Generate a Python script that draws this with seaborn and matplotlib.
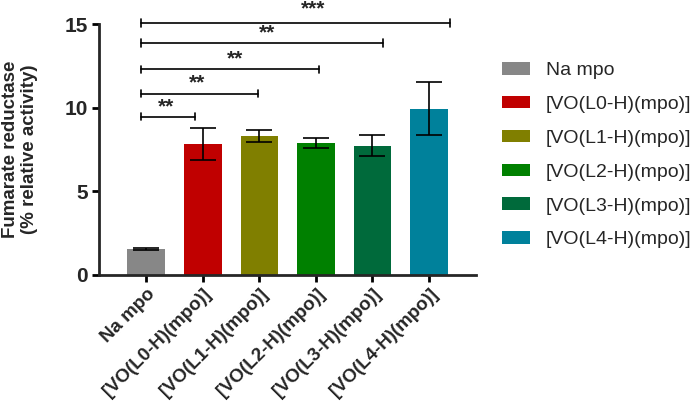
import matplotlib
matplotlib.use("Agg")
import matplotlib.pyplot as plt
import seaborn as sns
import pandas as pd
import numpy as np

categories = ["Na mpo", "[VO(L0-H)(mpo)]", "[VO(L1-H)(mpo)]", "[VO(L2-H)(mpo)]",
              "[VO(L3-H)(mpo)]", "[VO(L4-H)(mpo)]"]
values = [1.52, 7.83, 8.31, 7.87, 7.73, 9.94]
errors = [0.07, 0.95, 0.35, 0.29, 0.65, 1.60]
colors = ["#878787", "#C00000", "#807F00", "#008000", "#006A3B", "#00819B"]
y_ticks = [0, 5, 10, 15]
sig_labels = ["**", "**", "**", "**", "***"]
sig_heights = [9.46, 10.84, 12.28, 13.86, 15.05]
sig_ends = [0.86, 1.98, 3.06, 4.18, 5.37]
sig_start = -0.09
sig_text_x = [0.35, 0.90, 1.57, 2.13, 2.95]
sig_text_dy = [0.28, 0.28, 0.28, 0.28, 0.55]

sns.set_style("ticks")
plt.rcParams["font.family"] = ["Liberation Sans", "DejaVu Sans"]

df = pd.DataFrame({"cat": categories, "val": values})

fig = plt.figure(figsize=(6.99, 4.07), dpi=100)
ax = fig.add_axes([99/699, 1-274.7/407, (476-99)/699, (274.7-24)/407])

sns.barplot(data=df, x="cat", y="val", hue="cat", palette=colors, dodge=False,
            width=0.666, ax=ax, legend=True, errorbar=None, linewidth=0, saturation=1)

ax.errorbar(np.arange(len(categories)), values, yerr=errors, fmt="none",
            ecolor="black", elinewidth=1.2, capsize=9.7, capthick=1.2, zorder=5)

ax.set_xlim(-0.835, 5.83)
ax.set_ylim(0, 15)
ax.set_yticks(y_ticks)
ax.set_yticklabels([str(t) for t in y_ticks], fontsize=15, fontweight="bold")
ax.set_xticks(np.arange(len(categories)))
ax.set_xticklabels(categories, rotation=45, ha="right", rotation_mode="anchor",
                   fontsize=13.5, fontweight="bold")
ax.set_xlabel("")
ax.set_ylabel("Fumarate reductase\n(% relative activity)", fontsize=13.5,
              fontweight="bold", labelpad=19, linespacing=1.15)

for s in ["top", "right"]:
    ax.spines[s].set_visible(False)
for s in ["left", "bottom"]:
    ax.spines[s].set_linewidth(2.0)
ax.tick_params(axis="both", width=2.0, length=5, color="black", pad=3)

# significance brackets
for lab, h, e, tx, dy in zip(sig_labels, sig_heights, sig_ends, sig_text_x, sig_text_dy):
    ax.plot([sig_start, e], [h, h], color="black", lw=1.2, clip_on=False, zorder=6)
    for xx in (sig_start, e):
        ax.plot([xx, xx], [h - 0.22, h + 0.22], color="black", lw=1.2,
                clip_on=False, zorder=6)
    ax.text(tx, h + dy, lab, ha="center", va="baseline", fontsize=15,
            fontweight="bold", clip_on=False)

# legend
handles, labels = ax.get_legend_handles_labels()
if ax.get_legend() is not None:
    ax.get_legend().remove()
fig.legend(handles, labels, loc="upper left", bbox_to_anchor=(502/699, 1-62/407),
           frameon=False, fontsize=14, handlelength=1.45, handleheight=0.62,
           handletextpad=0.8, labelspacing=0.86, borderpad=0, borderaxespad=0)

fig.savefig("out.png", dpi=100)
